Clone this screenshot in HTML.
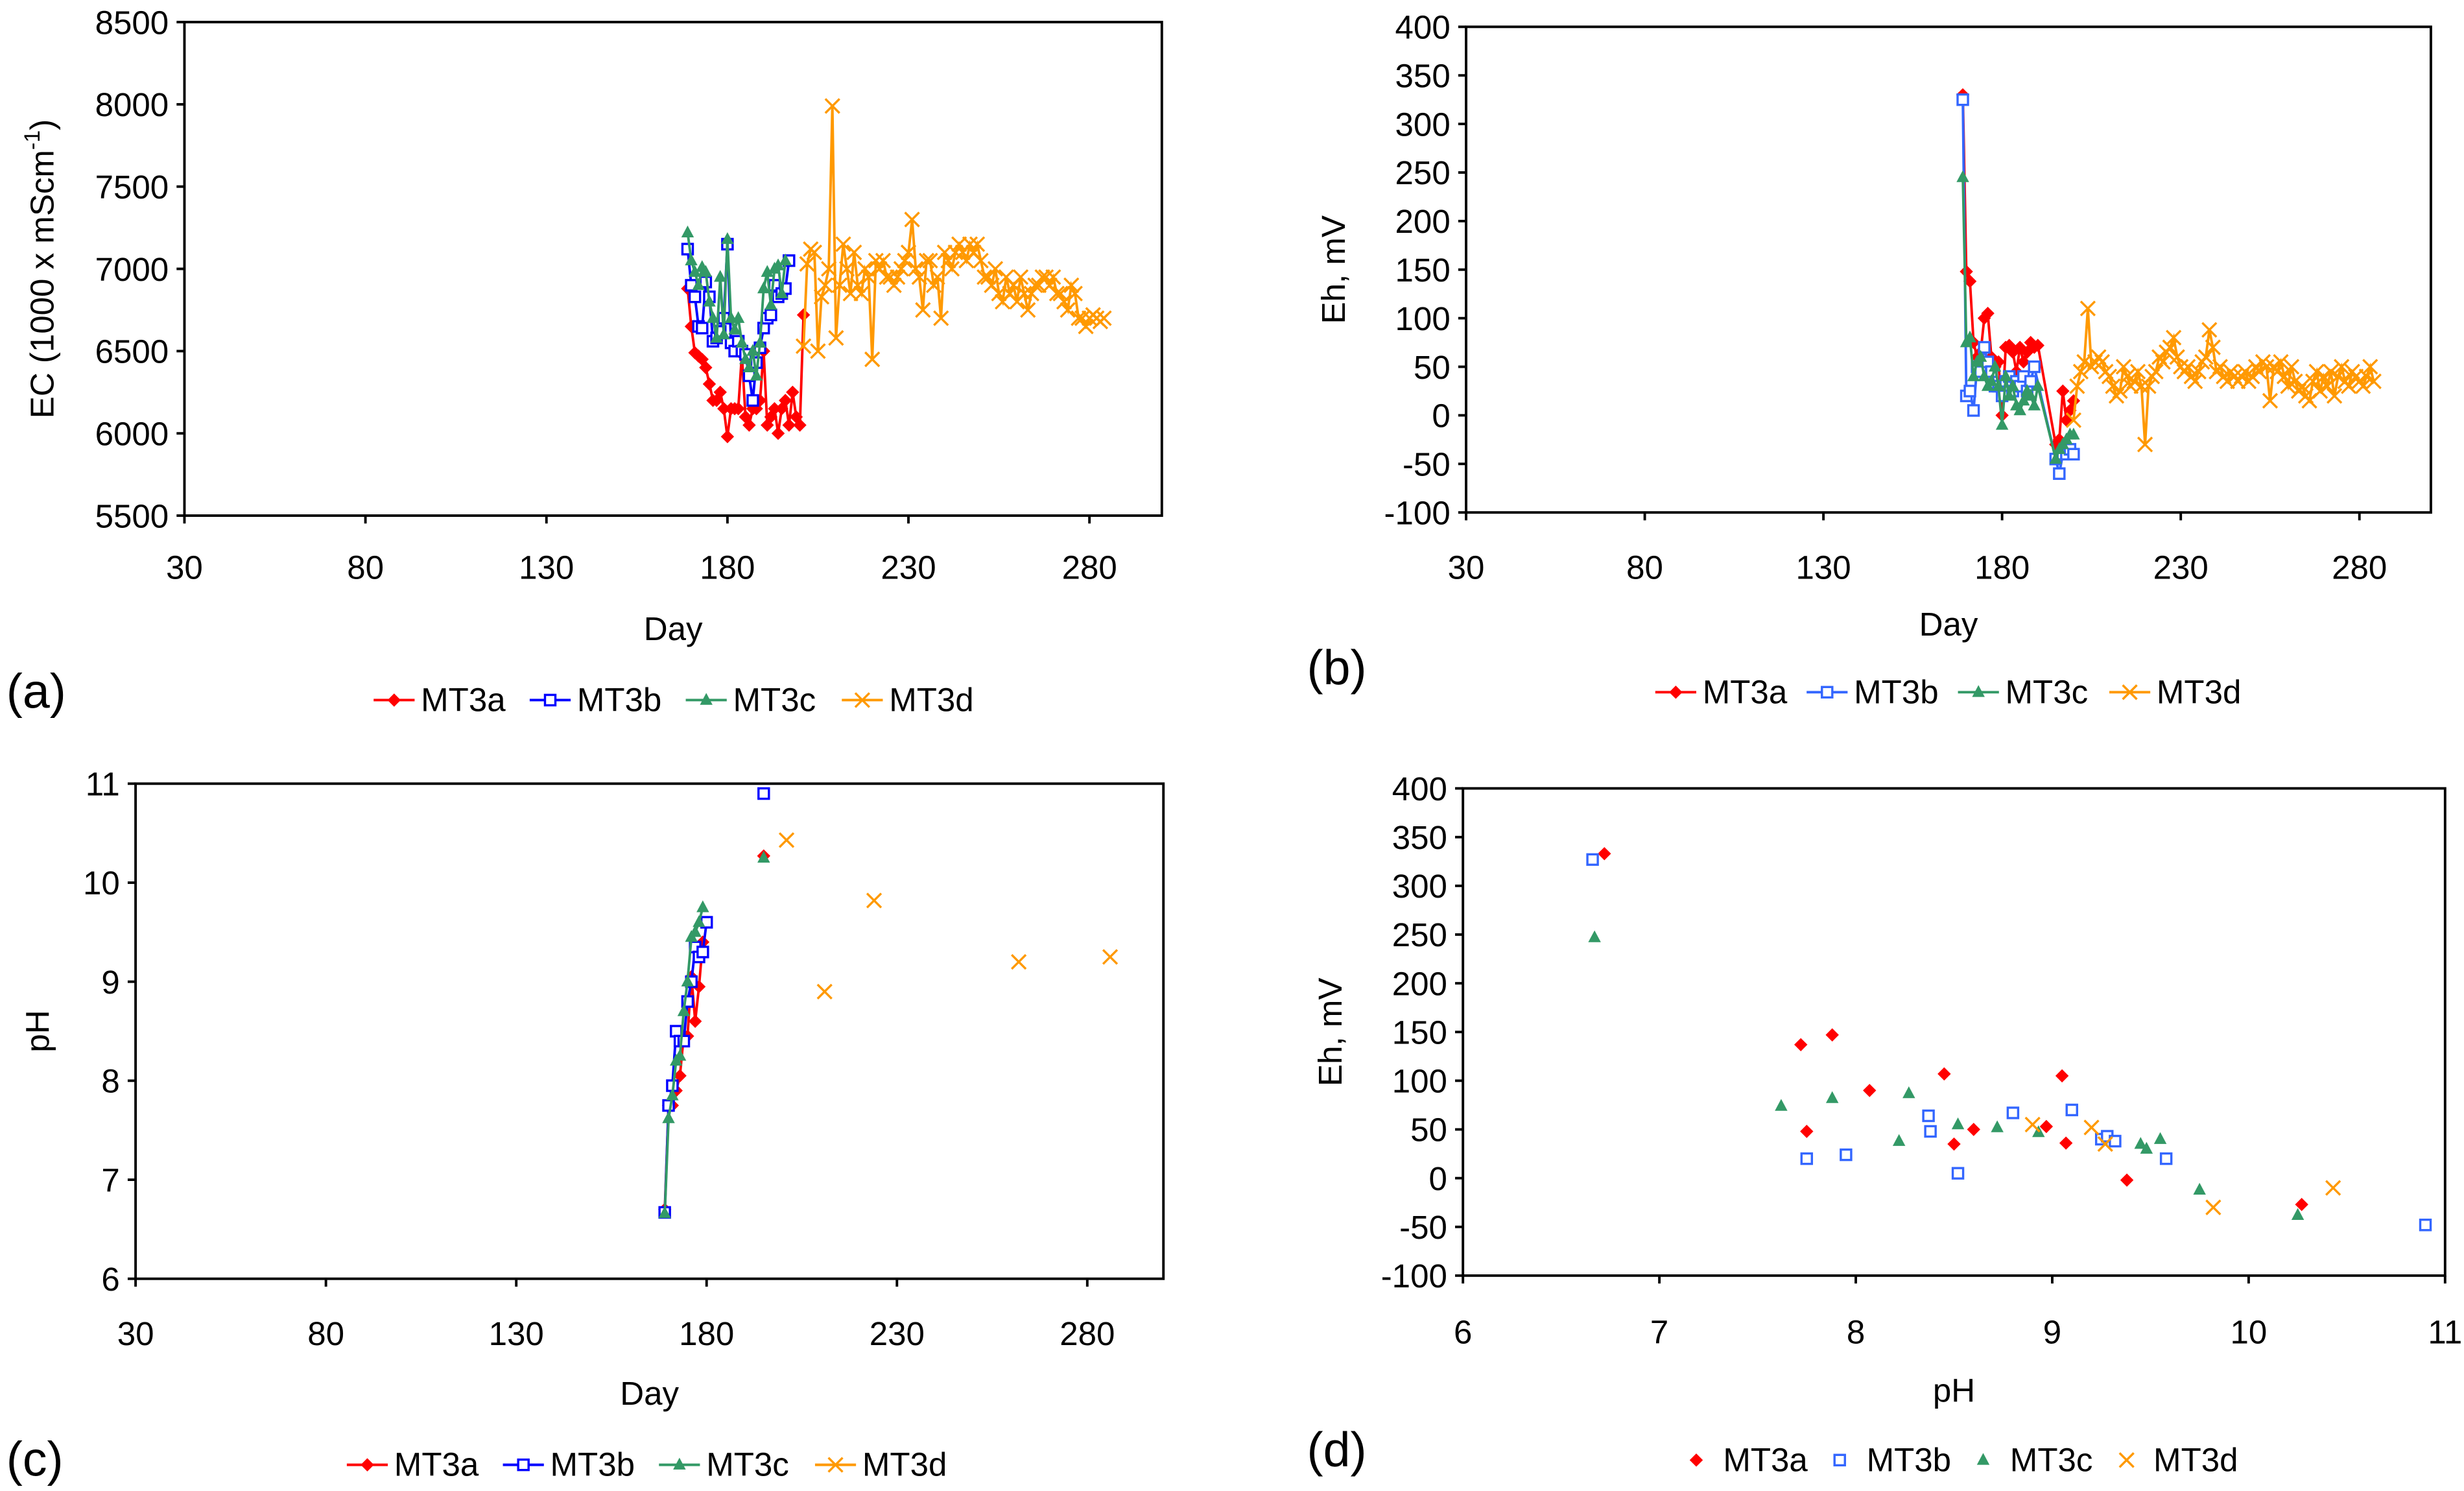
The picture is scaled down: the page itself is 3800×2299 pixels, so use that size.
<!DOCTYPE html>
<html><head><meta charset="utf-8"><style>
html,body{margin:0;padding:0;background:#fff;}
svg{display:block;font-family:"Liberation Sans",Arial,sans-serif;}
</style></head><body>
<svg id="fig" width="3800" height="2299" viewBox="0 0 1563 945.6" xmlns="http://www.w3.org/2000/svg"></svg>
<script>
// ---------- DATA ----------
const ecA=[[169,6880],[170,6650],[171,6490],[172,6470],[173,6450],[174,6400],[175,6300],[176,6200],[177,6200],[178,6250],[179,6150],[180,5980],[181,6150],[182,6150],[183,6150],[184,6480],[185,6100],[186,6050],[187,6150],[188,6150],[189,6200],[190,6500],[191,6050],[192,6100],[193,6150],[194,6000],[195,6150],[196,6200],[197,6050],[198,6250],[199,6100],[200,6050],[201,6720]];
const ecB=[[169,7120],[170,6900],[171,6830],[172,6650],[173,6640],[174,6920],[175,6830],[176,6560],[177,6580],[178,6620],[179,6700],[180,7150],[181,6550],[182,6500],[183,6560],[184,6500],[185,6480],[186,6350],[187,6200],[188,6430],[189,6520],[190,6640],[191,6700],[192,6720],[193,6900],[194,6830],[195,6850],[196,6880],[197,7050]];
const ecC=[[169,7220],[170,7050],[171,6980],[172,6900],[173,7010],[174,6980],[175,6800],[176,6700],[177,6580],[178,6950],[179,6600],[180,7180],[181,6700],[182,6630],[183,6700],[184,6550],[185,6450],[186,6400],[187,6500],[188,6350],[189,6550],[190,6880],[191,6980],[192,6780],[193,7000],[194,7020],[195,6850],[196,7050]];
const ecD=[[201,6530],[202,7030],[203,7120],[204,7100],[205,6500],[206,6830],[207,6900],[208,7000],[209,7990],[210,6580],[211,6900],[212,7150],[213,7000],[214,6850],[215,7100],[216,6900],[217,6850],[218,7000],[219,6950],[220,6450],[221,7050],[222,7000],[223,7050],[224,6950],[225,6950],[226,6900],[227,6950],[228,7000],[229,7050],[230,7100],[231,7300],[232,7000],[233,6950],[234,6750],[235,7050],[236,7050],[237,6900],[238,6950],[239,6700],[240,7100],[241,7050],[242,7000],[243,7100],[244,7150],[245,7100],[246,7050],[247,7150],[248,7100],[249,7150],[250,7050],[251,6950],[252,6950],[253,6900],[254,7000],[255,6850],[256,6800],[257,6950],[258,6850],[259,6900],[260,6800],[261,6950],[262,6850],[263,6750],[264,6850],[265,6900],[266,6900],[267,6950],[268,6950],[269,6900],[270,6950],[271,6850],[272,6850],[273,6800],[274,6750],[275,6900],[276,6850],[277,6700],[278,6700],[279,6650],[280,6700],[281,6720],[282,6700],[283,6680],[284,6700]];
const ehA=[[169,330],[170,148],[171,138],[172,75],[173,60],[174,65],[175,100],[176,105],[177,60],[178,50],[179,55],[180,0],[181,70],[182,72],[183,65],[184,45],[185,70],[186,55],[187,65],[188,75],[189,70],[190,72],[195,-30],[196,-25],[197,25],[198,-5],[199,5],[200,15]];
const ehB=[[169,325],[170,20],[171,25],[172,5],[173,50],[174,45],[175,70],[176,55],[177,45],[178,30],[179,30],[180,20],[181,35],[182,40],[183,25],[184,35],[185,30],[186,40],[187,25],[188,35],[189,50],[195,-45],[196,-60],[197,-40],[198,-40],[199,-35],[200,-40]];
const ehC=[[169,245],[170,75],[171,80],[172,40],[173,55],[174,60],[175,40],[176,30],[177,35],[178,50],[179,30],[180,-10],[181,40],[182,20],[183,30],[184,10],[185,5],[186,15],[187,25],[188,20],[189,10],[190,30],[195,-45],[196,-35],[197,-30],[198,-25],[199,-20],[200,-20]];
const ehD=[[200,-5],[201,30],[202,45],[203,55],[204,110],[205,50],[206,55],[207,60],[208,55],[209,45],[210,40],[211,30],[212,20],[213,25],[214,50],[215,40],[216,30],[217,35],[218,45],[219,30],[220,-30],[221,30],[222,40],[223,45],[224,60],[225,55],[226,65],[227,70],[228,80],[229,60],[230,50],[231,45],[232,50],[233,40],[234,35],[235,45],[236,55],[237,60],[238,88],[239,70],[240,45],[241,50],[242,40],[243,35],[244,45],[245,40],[246,35],[247,40],[248,45],[249,35],[250,40],[251,50],[252,45],[253,55],[254,50],[255,15],[256,50],[257,45],[258,55],[259,40],[260,30],[261,50],[262,35],[263,25],[264,30],[265,20],[266,15],[267,35],[268,45],[269,25],[270,40],[271,30],[272,45],[273,20],[274,40],[275,50],[276,35],[277,30],[278,45],[279,40],[280,35],[281,30],[282,40],[283,50],[284,35]];
const phA=[[169,6.7],[170,7.75],[171,7.75],[172,7.9],[173,8.05],[174,8.45],[175,8.45],[176,9.05],[177,8.6],[178,8.95],[179,9.4],null,[195,10.27]];
const phB=[[169,6.67],[170,7.75],[171,7.95],[172,8.5],[173,8.4],[174,8.4],[175,8.8],[176,9.0],[177,9.35],[178,9.25],[179,9.3],[180,9.6],null,[195,10.9]];
const phC=[[169,6.66],[170,7.62],[171,7.85],[172,8.2],[173,8.25],[174,8.7],[175,9.0],[176,9.45],[177,9.5],[178,9.6],[179,9.75],null,[195,10.25]];
const phD=[[201,10.43],[211,8.9],[224,9.82],[262,9.2],[286,9.25]];
const sA=[[6.72,333],[7.72,137],[7.75,48],[7.88,147],[8.07,90],[8.45,107],[8.5,35],[8.6,50],[8.97,53],[9.05,105],[9.07,36],[9.38,-2],[10.27,-27]];
const sB=[[6.66,327],[7.75,20],[7.95,24],[8.37,64],[8.38,48],[8.52,5],[8.8,67],[9.1,70],[9.25,40],[9.28,43],[9.32,38],[9.58,20],[10.9,-48]];
const sC=[[6.67,247],[7.62,74],[7.88,82],[8.22,38],[8.27,87],[8.52,55],[8.72,52],[8.93,47],[9.45,35],[9.48,30],[9.55,40],[9.75,-12],[10.25,-38]];
const sD=[[8.9,55],[9.2,52],[9.27,35],[9.82,-30],[10.43,-10]];
const dayTicks=[30,80,130,180,230,280];
const ecTicks=[5500,6000,6500,7000,7500,8000,8500];
const ehTicks=[-100,-50,0,50,100,150,200,250,300,350,400];
const phTicks=[6,7,8,9,10,11];
const names=["MT3a","MT3b","MT3c","MT3d"];

// ---------- DRAW ----------
const NS="http://www.w3.org/2000/svg";
const svg=document.getElementById('fig');
function el(tag,attrs,parent){const e=document.createElementNS(NS,tag);for(const k in attrs)e.setAttribute(k,attrs[k]);(parent||svg).appendChild(e);return e;}
function txt(x,y,s,size,anchor,parent){const t=el('text',{x:x,y:y,'font-size':size,'text-anchor':anchor||'middle',fill:'#000'},parent);t.textContent=s;return t;}
function marker(g,type,x,y,col){
  let m;
  if(type==='d'){m=el('path',{d:`M${x},${y-4.2}L${x+4.2},${y}L${x},${y+4.2}L${x-4.2},${y}Z`,fill:col},g);}
  else if(type==='s'){m=el('rect',{x:x-3.3,y:y-3.3,width:6.6,height:6.6,fill:'#fff',stroke:col,'stroke-width':1.4},g);}
  else if(type==='t'){m=el('path',{d:`M${x},${y-4.5}L${x+4},${y+3}L${x-4},${y+3}Z`,fill:col},g);}
  else {m=el('path',{d:`M${x-4.5},${y-4.5}L${x+4.5},${y+4.5}M${x+4.5},${y-4.5}L${x-4.5},${y+4.5}`,stroke:col,'stroke-width':1.4,fill:'none'},g);}
  
  
}
function panel(cfg){
  const g=el('g',{});
  
  
  const {x0,x1,y0,y1,xmin,xmax,ymin,ymax}=cfg;
  const sx=v=>x0+(v-xmin)/(xmax-xmin)*(x1-x0);
  const sy=v=>y1-(v-ymin)/(ymax-ymin)*(y1-y0);
  const frame=el('rect',{x:x0,y:y0,width:x1-x0,height:y1-y0,fill:'none',stroke:'#000','stroke-width':1.6},g);
  
  
  cfg.xt.forEach(v=>{el('line',{x1:sx(v),x2:sx(v),y1:y1,y2:y1+5,stroke:'#000','stroke-width':1.6},g);
    const t=txt(sx(v),y1+cfg.xlOff,String(v),21,'middle',g);});
  cfg.yt.forEach(v=>{el('line',{x1:x0-5,x2:x0,y1:sy(v),y2:sy(v),stroke:'#000','stroke-width':1.6},g);
    const t=txt(x0-10,sy(v)+7.5,String(v),21,'end',g);});
  const xt=txt((x0+x1)/2,cfg.xtitleY,cfg.xtitle,21,'middle',g);
  
  const yt=el('text',{transform:`translate(${cfg.ytitleX},${(y0+y1)/2}) rotate(-90)`,'font-size':21,'text-anchor':'middle'},g);
  
  yt.innerHTML=cfg.ytitle;
  cfg.series.forEach(s=>{
    const sg=el('g',{},g);
    
    
    if(s.line){
      let d='',pen=false;
      s.data.forEach(p=>{if(!p){pen=false;return;}d+=(pen?'L':'M')+sx(p[0]).toFixed(1)+','+sy(p[1]).toFixed(1);pen=true;});
      el('path',{d:d,fill:'none',stroke:s.col,'stroke-width':1.6},sg);
    }
    s.data.forEach(p=>{if(p)marker(sg,s.m,sx(p[0]),sy(p[1]),s.col);});
  });
  const lg=el('g',{},g);
  
  
  let lx=cfg.legX;
  cfg.series.forEach(s=>{
    const e=el('g',{},lg);
    
    
    if(cfg.legLine)el('line',{x1:lx,x2:lx+26,y1:cfg.legY-7,y2:cfg.legY-7,stroke:s.col,'stroke-width':1.6},e);
    marker(e,s.m,lx+13,cfg.legY-7,s.col);
    txt(lx+30,cfg.legY,s.label,21,'start',e);
    lx+=cfg.legStep;
  });
  const pl=txt(cfg.plX,cfg.plY,cfg.pl,31,'start',g);
  
}
const cA='#ff0000',cBa='#0000ff',cBb='#3366ff',cC='#339966',cD='#ff9900';
panel({name:'panel-a-ec',x0:117,x1:737,y0:14,y1:327,xmin:30,xmax:300,ymin:5500,ymax:8500,xt:dayTicks,yt:ecTicks,xlOff:40,
  xtitle:'Day',xtitleY:406,ytitle:'EC (1000 x mScm<tspan font-size="14" dy="-9">-1</tspan><tspan dy="9">)</tspan>',ytitleX:34,
  series:[{label:names[0],data:ecA,col:cA,m:'d',line:1},{label:names[1],data:ecB,col:cBa,m:'s',line:1},{label:names[2],data:ecC,col:cC,m:'t',line:1},{label:names[3],data:ecD,col:cD,m:'x',line:1}],
  legX:237,legY:451,legStep:99,legLine:1,pl:'(a)',plX:4,plY:449});
panel({name:'panel-b-eh',x0:930,x1:1542,y0:17,y1:325,xmin:30,xmax:300,ymin:-100,ymax:400,xt:dayTicks,yt:ehTicks,xlOff:42,
  xtitle:'Day',xtitleY:403,ytitle:'Eh, mV',ytitleX:853,
  series:[{label:names[0],data:ehA,col:cA,m:'d',line:1},{label:names[1],data:ehB,col:cBb,m:'s',line:1},{label:names[2],data:ehC,col:cC,m:'t',line:1},{label:names[3],data:ehD,col:cD,m:'x',line:1}],
  legX:1050,legY:446,legStep:96,legLine:1,pl:'(b)',plX:829,plY:434});
panel({name:'panel-c-ph',x0:86,x1:738,y0:497,y1:811,xmin:30,xmax:300,ymin:6,ymax:11,xt:dayTicks,yt:phTicks,xlOff:42,
  xtitle:'Day',xtitleY:891,ytitle:'pH',ytitleX:31,
  series:[{label:names[0],data:phA,col:cA,m:'d',line:1},{label:names[1],data:phB,col:cBa,m:'s',line:1},{label:names[2],data:phC,col:cC,m:'t',line:1},{label:names[3],data:phD,col:cD,m:'x',line:0}],
  legX:220,legY:936,legStep:99,legLine:1,pl:'(c)',plX:4,plY:936});
panel({name:'panel-d-eh-vs-ph',x0:928,x1:1551,y0:500,y1:809,xmin:6,xmax:11,ymin:-100,ymax:400,xt:[6,7,8,9,10,11],yt:ehTicks,xlOff:43,
  xtitle:'pH',xtitleY:889,ytitle:'Eh, mV',ytitleX:851,
  series:[{label:names[0],data:sA,col:cA,m:'d',line:0},{label:names[1],data:sB,col:cBb,m:'s',line:0},{label:names[2],data:sC,col:cC,m:'t',line:0},{label:names[3],data:sD,col:cD,m:'x',line:0}],
  legX:1063,legY:933,legStep:91,legLine:0,pl:'(d)',plX:829,plY:930});
</script>
</body></html>
